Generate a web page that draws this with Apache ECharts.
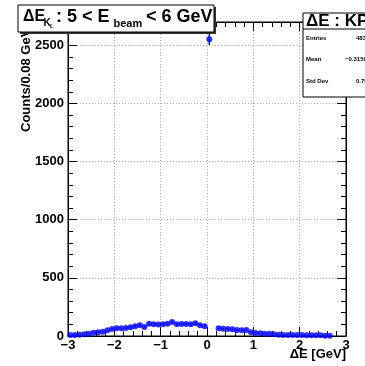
<!DOCTYPE html>
<html>
<head>
<meta charset="utf-8">
<script src="https://cdn.jsdelivr.net/npm/echarts@6/dist/echarts.min.js"></script>
<style>
  html, body { margin: 0; padding: 0; background: #fff; }
  #chart { width: 365px; height: 366px; }
</style>
</head>
<body>
<div id="chart"></div>
<script>
// bin centers [GeV] and counts
const binCenters = [
  -2.95, -2.85, -2.75, -2.65, -2.55, -2.45, -2.35, -2.25, -2.15, -2.05,
  -1.95, -1.85, -1.75, -1.65, -1.55, -1.45, -1.35, -1.25, -1.15, -1.05,
  -0.95, -0.85, -0.75, -0.65, -0.55, -0.45, -0.35, -0.25, -0.15, -0.05,
  0.05,
  0.25, 0.35, 0.45, 0.55, 0.65, 0.75, 0.85, 0.95, 1.05, 1.15,
  1.25, 1.35, 1.45, 1.55, 1.65, 1.75, 1.85, 1.95, 2.05, 2.15,
  2.25, 2.35, 2.45, 2.55, 2.65
];
const counts = [
  9, 9, 11, 14, 20, 29, 32, 37, 49, 60,
  66, 66, 69, 75, 83, 92, 78, 106, 101, 98,
  101, 106, 121, 101, 103, 103, 101, 109, 92, 83,
  2552,
  66, 63, 60, 57, 52, 49, 52, 32, 26, 23,
  20, 20, 14, 11, 9, 9, 9, 9, 9, 6,
  6, 6, 6, 3, 3
];
const xTicks = [-3, -2, -1, 0, 1, 2, 3];
const yTicks = [0, 500, 1000, 1500, 2000, 2500];
const statsRows = [['Entries', '4830'], ['Mean', '\u22120.3159'], ['Std Dev', '0.7912']];

const FONT = 'Liberation Sans';
const points = binCenters.map((x, i) => [x, counts[i]]);
const errBars = binCenters.map((x, i) => [x, counts[i], Math.sqrt(counts[i])]);

const chart = echarts.init(document.getElementById('chart'));

function axisCommon() {
  return {
    axisLine: { onZero: false, lineStyle: { color: '#000', width: 1 } },
    axisTick: { inside: true, length: 9, lineStyle: { color: '#000' } },
    minorTick: { show: true, splitNumber: 5, length: 5, lineStyle: { color: '#000' } },
  };
}

// title pieces: text, x, y(center), font size
const titleParts = [
  ['\u0394E', 23, 17, 16],
  ['K', 43.5, 23.5, 10],
  ['L', 50, 26, 6],
  [': 5 < E', 56, 17, 18],
  ['beam', 113.5, 23.5, 11],
  ['< 6 GeV', 146, 17, 18],
];

chart.setOption({
  animation: false,
  grid: { left: 68, right: 19, top: 22, bottom: 30, show: true, borderColor: '#000', borderWidth: 1 },
  xAxis: [
    Object.assign({
      type: 'value', min: xTicks[0], max: xTicks[xTicks.length - 1], interval: 1,
      axisLabel: { color: '#000', fontFamily: FONT, fontWeight: 'bold', fontSize: 13, margin: 3,
        formatter: v => (v < 0 ? '\u2212' + Math.abs(v) : '' + v) },
      splitLine: { show: true, lineStyle: { color: '#aaa', type: [1, 2] } },
    }, axisCommon()),
    Object.assign({
      type: 'value', position: 'top', min: -3, max: 3, interval: 1,
      axisLabel: { show: false }, splitLine: { show: false },
    }, axisCommon()),
  ],
  yAxis: [
    Object.assign({
      type: 'value', min: 0, max: 2700, interval: 500,
      axisLabel: { color: '#000', fontFamily: FONT, fontWeight: 'bold', fontSize: 13, margin: 4,
        formatter: v => (yTicks.indexOf(v) >= 0 ? '' + v : '') },
      splitLine: { show: true, lineStyle: { color: '#aaa', type: [1, 2] } },
    }, axisCommon()),
    Object.assign({
      type: 'value', position: 'right', min: 0, max: 2700, interval: 500,
      axisLabel: { show: false }, splitLine: { show: false },
    }, axisCommon()),
  ],
  series: [
    {
      type: 'custom',
      xAxisIndex: 0, yAxisIndex: 0,
      data: errBars,
      renderItem: function (params, api) {
        const x = api.value(0), y = api.value(1), e = api.value(2);
        const p1 = api.coord([x, y - e]);
        const p2 = api.coord([x, y + e]);
        return {
          type: 'line',
          shape: { x1: p1[0], y1: p1[1], x2: p2[0], y2: p2[1] },
          style: { stroke: '#0000ff', lineWidth: 1.5 },
        };
      },
      z: 3,
    },
    {
      type: 'scatter',
      xAxisIndex: 0, yAxisIndex: 0,
      data: points,
      symbol: 'circle',
      symbolSize: 6,
      itemStyle: { color: '#0000ff' },
      z: 4,
    },
  ],
  graphic: [
    // y axis title
    {
      type: 'text', x: 26, y: 132, rotation: Math.PI / 2, z: 10,
      style: { text: 'Counts/0.08 GeV', fill: '#000', font: 'bold 13px "Liberation Sans"',
        align: 'left', verticalAlign: 'middle' },
    },
    // x axis title
    {
      type: 'text', x: 346, y: 354, z: 10,
      style: { text: '\u0394E [GeV]', fill: '#000', font: 'bold 13px "Liberation Sans"',
        align: 'right', verticalAlign: 'middle' },
    },
    // title box
    { type: 'rect', z: 20, shape: { x: 20, y: 7, width: 196, height: 27 }, style: { fill: '#333' } },
    { type: 'rect', z: 21, shape: { x: 18, y: 5, width: 196, height: 27 },
      style: { fill: '#fff', stroke: '#000', lineWidth: 1 } },
    // stats box
    { type: 'rect', z: 20, shape: { x: 303, y: 13, width: 80, height: 84 },
      style: { fill: '#fff', stroke: '#000', lineWidth: 1 } },
    { type: 'line', z: 21, shape: { x1: 303, y1: 29, x2: 380, y2: 29 }, style: { stroke: '#000', lineWidth: 1 } },
    { type: 'text', z: 22, x: 306, y: 21,
      style: { text: '\u0394E : KPi', fill: '#000', font: 'bold 17px "Liberation Sans"', verticalAlign: 'middle' } },
  ].concat(titleParts.map(p => ({
    type: 'text', z: 22, x: p[1], y: p[2],
    style: { text: p[0], fill: '#000', font: 'bold ' + p[3] + 'px "Liberation Sans"', verticalAlign: 'middle' },
  }))).concat(statsRows.reduce((acc, row, i) => {
    const y = 38 + i * 21.5;
    acc.push({ type: 'text', z: 22, x: 306, y: y,
      style: { text: row[0], fill: '#000', font: 'bold 6px "Liberation Sans"', verticalAlign: 'middle' } });
    acc.push({ type: 'text', z: 22, x: i === 1 ? 345 : 356, y: y,
      style: { text: row[1], fill: '#000', font: 'bold 6px "Liberation Sans"', verticalAlign: 'middle' } });
    return acc;
  }, [])),
});
</script>
</body>
</html>
